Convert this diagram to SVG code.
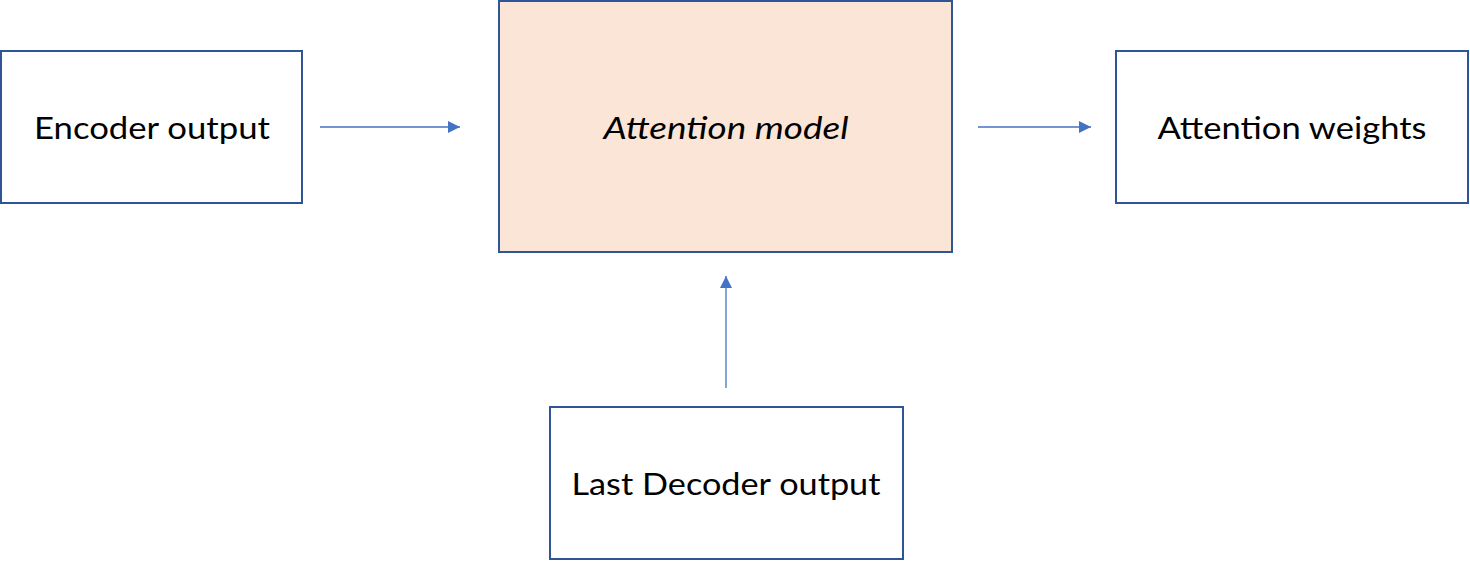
<svg xmlns="http://www.w3.org/2000/svg" width="1470" height="561" viewBox="0 0 1470 561">
<style>
.box{fill:#ffffff;stroke:#2F5597;stroke-width:2}
.hl{fill:#FBE5D6}
.lbl{font-family:Lato,"Open Sans","Liberation Sans",sans-serif;font-size:31px;fill:#000;text-anchor:middle}
.conn{stroke:#4472C4;stroke-width:1.3;fill:none}
</style>
<defs>
<marker id="ah" markerUnits="userSpaceOnUse" markerWidth="12" markerHeight="12" viewBox="0 0 12 12" refX="12" refY="6" orient="auto">
<path d="M0,0 L12,6 L0,12 Z" fill="#4472C4"/>
</marker>
</defs>
<rect width="1470" height="561" fill="#ffffff"/>
<g id="encoder">
<rect class="box" x="1" y="51" width="301" height="152"/>
<text class="lbl" x="152" y="139" textLength="236" lengthAdjust="spacingAndGlyphs">Encoder output</text>
</g>
<g id="attention-model">
<rect class="box hl" x="499" y="1" width="453" height="251"/>
<text class="lbl" x="726" y="139" font-style="italic" textLength="245" lengthAdjust="spacingAndGlyphs">Attention model</text>
</g>
<g id="attention-weights">
<rect class="box" x="1116" y="51" width="352" height="152"/>
<text class="lbl" x="1292" y="139" textLength="269" lengthAdjust="spacingAndGlyphs">Attention weights</text>
</g>
<g id="decoder">
<rect class="box" x="550" y="407" width="353" height="152"/>
<text class="lbl" x="726" y="495" textLength="309" lengthAdjust="spacingAndGlyphs">Last Decoder output</text>
</g>
<g id="connectors">
<line class="conn" x1="320" y1="127" x2="460" y2="127" marker-end="url(#ah)"/>
<line class="conn" x1="978" y1="127" x2="1091" y2="127" marker-end="url(#ah)"/>
<line class="conn" x1="726" y1="388" x2="726" y2="276" marker-end="url(#ah)"/>
</g>
</svg>
